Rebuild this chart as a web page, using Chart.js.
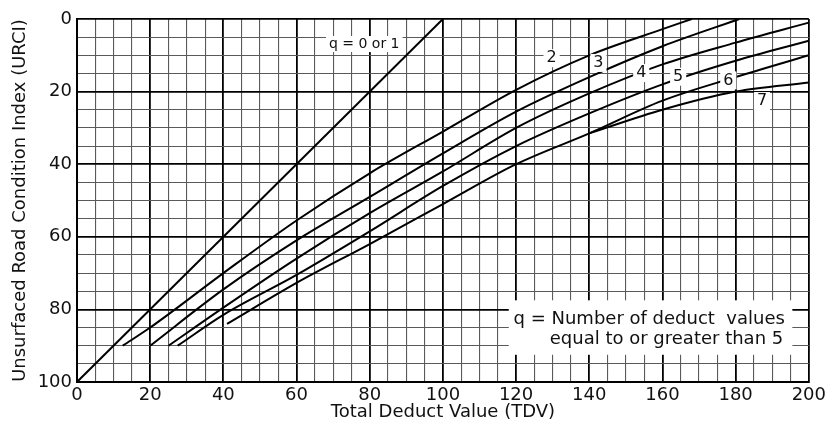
<!DOCTYPE html>
<html>
<head>
<meta charset="utf-8">
<script src="https://cdn.jsdelivr.net/npm/chart.js@4.4.0/dist/chart.umd.min.js"></script>
<style>
  html, body { margin: 0; padding: 0; background: #fff; }
  #wrap { width: 829px; height: 425px; }
</style>
</head>
<body>
<div id="wrap"><canvas id="urci-chart"></canvas></div>
<script>
// Curvas TDV -> URCI (q = número de deducciones >= 5)
const q01X = [0, 100];
const q01Y = [100, 0];
const q2X = [12.5, 20, 40, 60, 80, 100, 120, 140, 160, 168];
const q2Y = [90, 85, 70, 55.5, 42.5, 31, 19.5, 10, 2.8, 0];
const q3X = [20, 40, 60, 80, 100, 120, 140, 160, 181];
const q3Y = [90, 74.5, 61, 49, 37, 25.5, 16, 7.5, 0];
const q4X = [25, 40, 60, 80, 100, 120, 140, 160, 180, 200];
const q4Y = [90, 79.5, 66, 53.5, 42, 30, 20.5, 12.5, 6.5, 1];
const q5X = [27.5, 40, 60, 80, 100, 120, 140, 160, 180, 200];
const q5Y = [90, 81.5, 70.5, 58.5, 46, 35, 26, 18, 11.5, 6];
const q6X = [41, 60, 80, 100, 120, 140, 160, 180, 200];
const q6Y = [84, 72.7, 62, 51, 40, 31.5, 22.5, 16, 10];
const q7X = [140, 160, 180, 200];
const q7Y = [31.5, 25, 20, 17.5];

const xTickLabels = [0, 20, 40, 60, 80, 100, 120, 140, 160, 180, 200];
const yTickLabels = [0, 20, 40, 60, 80, 100];

// Etiquetas de las curvas
const curveLabels = [
    { text: 'q = 0 or 1', x: 78.5, y: 6.9, size: 14 },
    { text: '2', x: 129.7, y: 10.8, size: 16 },
    { text: '3', x: 142.5, y: 12.1, size: 16 },
    { text: '4', x: 154.2, y: 14.9, size: 16 },
    { text: '5', x: 164.3, y: 15.9, size: 16 },
    { text: '6', x: 178, y: 16.9, size: 16 },
    { text: '7', x: 187.2, y: 22.6, size: 16 },
];

const FONT = 'DejaVu Sans';

function pts(xs, ys) {
    return xs.map(function (v, i) { return { x: v, y: ys[i] }; });
}

function curve(label, xs, ys) {
    return {
        label: label,
        data: pts(xs, ys),
        showLine: true,
        borderColor: '#000',
        borderWidth: 2,
        pointRadius: 0,
        cubicInterpolationMode: 'monotone',
    };
}

// Etiquetas y nota con fondo blanco
const overlayPlugin = {
    id: 'overlay',
    afterDatasetsDraw: function (chart) {
        const ctx = chart.ctx;
        const sx = chart.scales.x;
        const sy = chart.scales.y;
        ctx.save();
        ctx.textBaseline = 'middle';

        curveLabels.forEach(function (l) {
            ctx.font = l.size + 'px "' + FONT + '"';
            const w = ctx.measureText(l.text).width;
            const px = sx.getPixelForValue(l.x);
            const py = sy.getPixelForValue(l.y);
            ctx.fillStyle = '#fff';
            ctx.fillRect(px - w / 2 - 3, py - l.size / 2 - 1, w + 6, l.size + 2);
            ctx.fillStyle = '#111';
            ctx.textAlign = 'center';
            ctx.fillText(l.text, px, py);
        });

        // Nota
        const x0 = sx.getPixelForValue(118), x1 = sx.getPixelForValue(195.5);
        const y0 = sy.getPixelForValue(77.5), y1 = sy.getPixelForValue(92.5);
        ctx.fillStyle = '#fff';
        ctx.fillRect(x0, y0, x1 - x0, y1 - y0);
        ctx.fillStyle = '#111';
        ctx.textAlign = 'left';
        ctx.font = '18px "' + FONT + '"';
        ctx.fillText('q = Number of deduct  values', sx.getPixelForValue(119.3), sy.getPixelForValue(82.8));
        ctx.fillText('equal to or greater than 5', sx.getPixelForValue(129.2), sy.getPixelForValue(88.3));
        ctx.restore();
    }
};

const gridColor = function (c) { return c.tick.value % 20 === 0 ? '#000' : '#5a5a5a'; };
const gridWidth = function (c) { return c.tick.value % 20 === 0 ? 1.8 : 1.1; };

new Chart(document.getElementById('urci-chart'), {
    type: 'scatter',
    data: {
        datasets: [
            curve('q = 0 or 1', q01X, q01Y),
            curve('2', q2X, q2Y),
            curve('3', q3X, q3Y),
            curve('4', q4X, q4Y),
            curve('5', q5X, q5Y),
            curve('6', q6X, q6Y),
            curve('7', q7X, q7Y),
        ]
    },
    options: {
        responsive: true,
        maintainAspectRatio: false,
        animation: false,
        layout: { padding: { left: 0, top: 19, right: 18, bottom: 0 } },
        plugins: {
            legend: { display: false },
            tooltip: { enabled: false },
        },
        scales: {
            x: {
                type: 'linear',
                min: 0,
                max: 200,
                afterFit: function (s) { s.height = 43; },
                ticks: {
                    stepSize: 5,
                    autoSkip: false,
                    maxRotation: 0,
                    padding: 3,
                    color: '#111',
                    font: { family: FONT, size: 18 },
                    callback: function (v) { return xTickLabels.includes(v) ? String(v) : ''; }
                },
                grid: { color: gridColor, lineWidth: gridWidth, drawTicks: false },
                border: { color: '#000', width: 2 },
                title: {
                    display: true,
                    text: 'Total Deduct Value (TDV)',
                    color: '#111',
                    font: { family: FONT, size: 18 },
                    padding: { top: 0, bottom: 2 }
                }
            },
            y: {
                type: 'linear',
                reverse: true,
                min: 0,
                max: 100,
                afterFit: function (s) { s.width = 77; },
                ticks: {
                    stepSize: 5,
                    autoSkip: false,
                    padding: 5,
                    color: '#111',
                    font: { family: FONT, size: 18 },
                    callback: function (v) { return yTickLabels.includes(v) ? String(v) : ''; }
                },
                grid: { color: gridColor, lineWidth: gridWidth, drawTicks: false },
                border: { color: '#000', width: 2 },
                title: {
                    display: true,
                    text: 'Unsurfaced Road Condition Index (URCI)',
                    color: '#111',
                    font: { family: FONT, size: 18 },
                    padding: { top: 10, bottom: 0 }
                }
            }
        }
    },
    plugins: [overlayPlugin]
});
</script>
</body>
</html>
